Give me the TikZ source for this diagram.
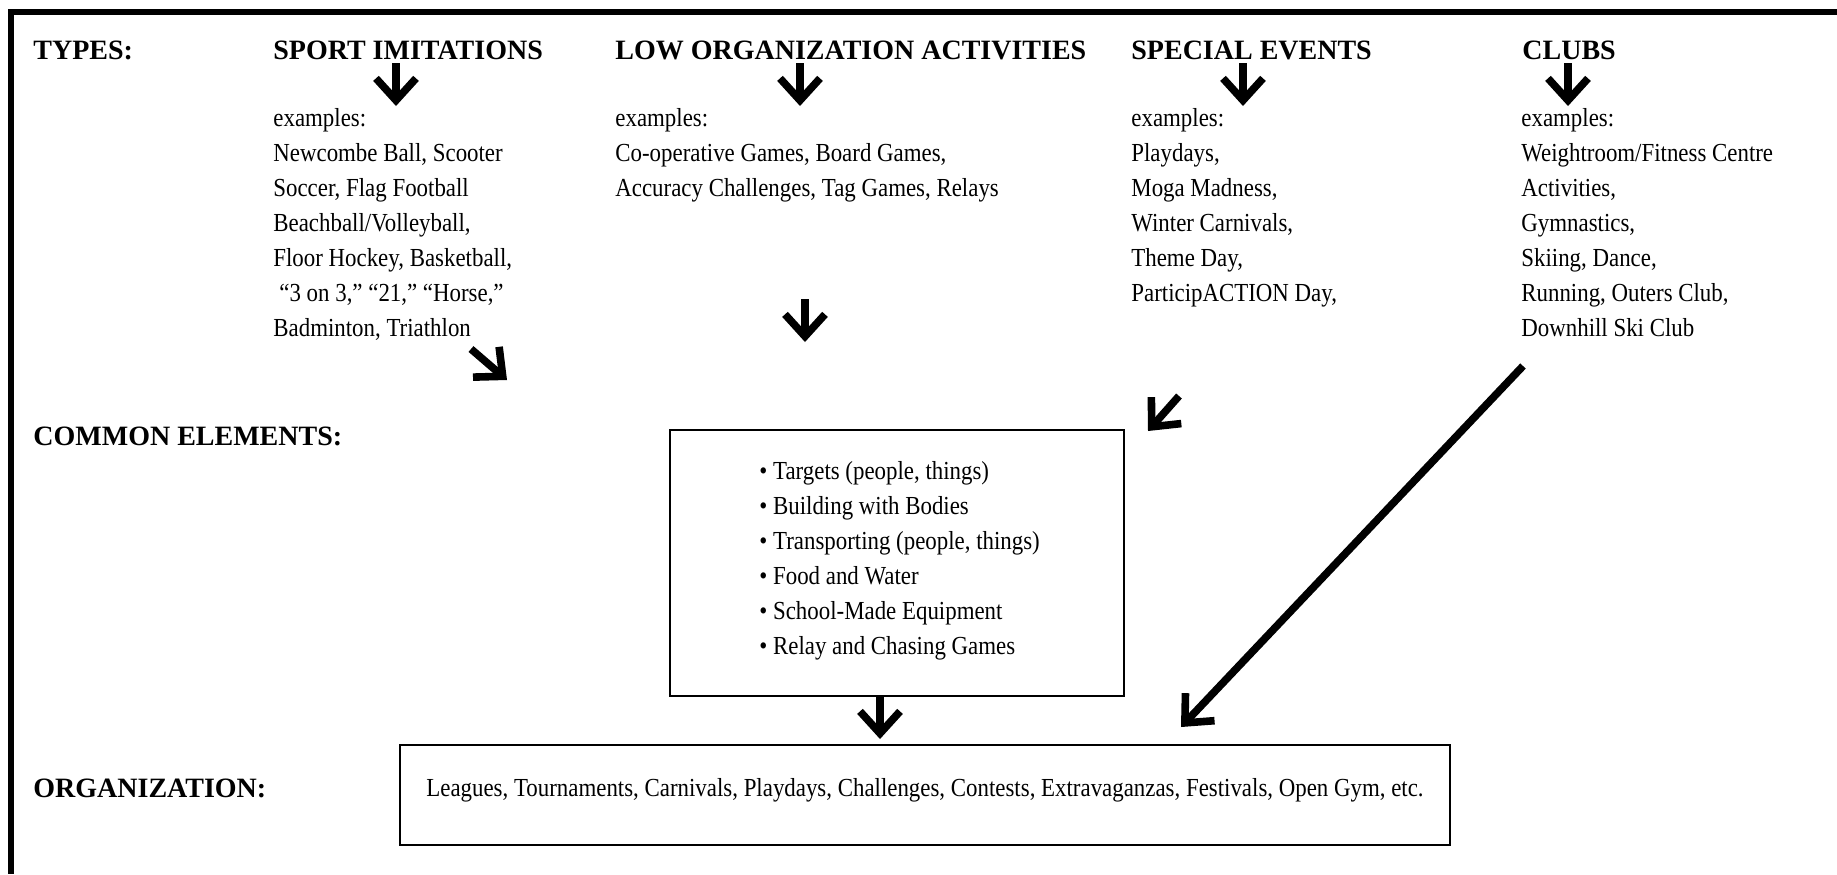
\documentclass[tikz,border=0pt]{standalone}
\usepackage{fontspec}
\setmainfont{Liberation Serif}
\newfontfamily\bodyfont[FakeStretch=0.88]{Liberation Serif}
\usetikzlibrary{arrows.meta}
\tikzset{
  headtxt/.style={anchor=base west, inner sep=0pt, font=\bfseries\fontsize{14}{16}\selectfont},
  listtxt/.style={anchor=north west, inner sep=0pt, align=left, font=\bodyfont\fontsize{13}{17.5}\selectfont},
  box/.style={draw, line width=0.8pt, inner sep=0pt},
  bigarrow/.style={line width=3.8pt, -{Straight Barb[length=11pt,width=20pt]}},
  frameline/.style={line width=3pt}
}
\begin{document}
\begin{tikzpicture}[x=0.5pt,y=-0.5pt]
\useasboundingbox (0,0) rectangle (1837,874);
% frame
\coordinate (fTL) at (11,12);
\coordinate (fTR) at (1837,12);
\coordinate (fBL) at (11,874);
\draw[frameline] (fTR) -- (fTL) -- (fBL);

% headers
\node[headtxt] (types) at (33,59) {TYPES:};
\node[headtxt] (hsport) at (273,59) {SPORT IMITATIONS};
\node[headtxt] (hlow) at (615,59) {LOW ORGANIZATION ACTIVITIES};
\node[headtxt] (hspec) at (1131,59) {SPECIAL EVENTS};
\node[headtxt] (hclub) at (1522,59) {CLUBS};
\node[headtxt] (common) at (33,445) {COMMON ELEMENTS:};
\node[headtxt] (orglab) at (33,797) {ORGANIZATION:};

% example lists
\node[listtxt] (lsport) at (273,108) {examples:\\Newcombe Ball, Scooter\\Soccer, Flag Football\\Beachball/Volleyball,\\Floor Hockey, Basketball,\\\hspace{3pt}“3 on 3,” “21,” “Horse,”\\Badminton, Triathlon};
\node[listtxt] (llow) at (615,108) {examples:\\Co-operative Games, Board Games,\\Accuracy Challenges, Tag Games, Relays};
\node[listtxt] (lspec) at (1131,108) {examples:\\Playdays,\\Moga Madness,\\Winter Carnivals,\\Theme Day,\\ParticipACTION Day,};
\node[listtxt] (lclub) at (1521,108) {examples:\\Weightroom/Fitness Centre\\Activities,\\Gymnastics,\\Skiing, Dance,\\Running, Outers Club,\\Downhill Ski Club};

% common elements box
\node[box, minimum width=227pt, minimum height=133pt] (cbox) at (897,563) {};
\node[listtxt] (bullets) at (759,461) {• Targets (people, things)\\• Building with Bodies\\• Transporting (people, things)\\• Food and Water\\• School-Made Equipment\\• Relay and Chasing Games};

% organization box
\node[box, minimum width=525pt, minimum height=50pt, text depth=8pt, font=\bodyfont\fontsize{13}{17.5}\selectfont] (obox) at (925,795) {Leagues, Tournaments, Carnivals, Playdays, Challenges, Contests, Extravaganzas, Festivals, Open Gym, etc.};

% arrow coordinates
\coordinate (a1s) at (396,63);  \coordinate (a1e) at (396,106);
\coordinate (a2s) at (800,63);  \coordinate (a2e) at (800,106);
\coordinate (a3s) at (1243,63); \coordinate (a3e) at (1243,106);
\coordinate (a4s) at (1568,63); \coordinate (a4e) at (1568,106);
\coordinate (a5s) at (805,299); \coordinate (a5e) at (805,342);
\coordinate (a6s) at (471,349); \coordinate (a6e) at (507,380);
\coordinate (a7s) at (1179,396); \coordinate (a7e) at (1148,431);
\coordinate (a8s) at (1523,366); \coordinate (a8e) at (1181,727);
\coordinate (a9e) at (880,739);

\draw[bigarrow] (a1s) -- (a1e);
\draw[bigarrow] (a2s) -- (a2e);
\draw[bigarrow] (a3s) -- (a3e);
\draw[bigarrow] (a4s) -- (a4e);
\draw[bigarrow] (a5s) -- (a5e);
\draw[bigarrow] (a6s) -- (a6e);
\draw[bigarrow] (a7s) -- (a7e);
\draw[bigarrow] (a8s) -- (a8e);
\draw[bigarrow] (cbox.south -| a9e) -- (a9e);
\end{tikzpicture}
\end{document}
